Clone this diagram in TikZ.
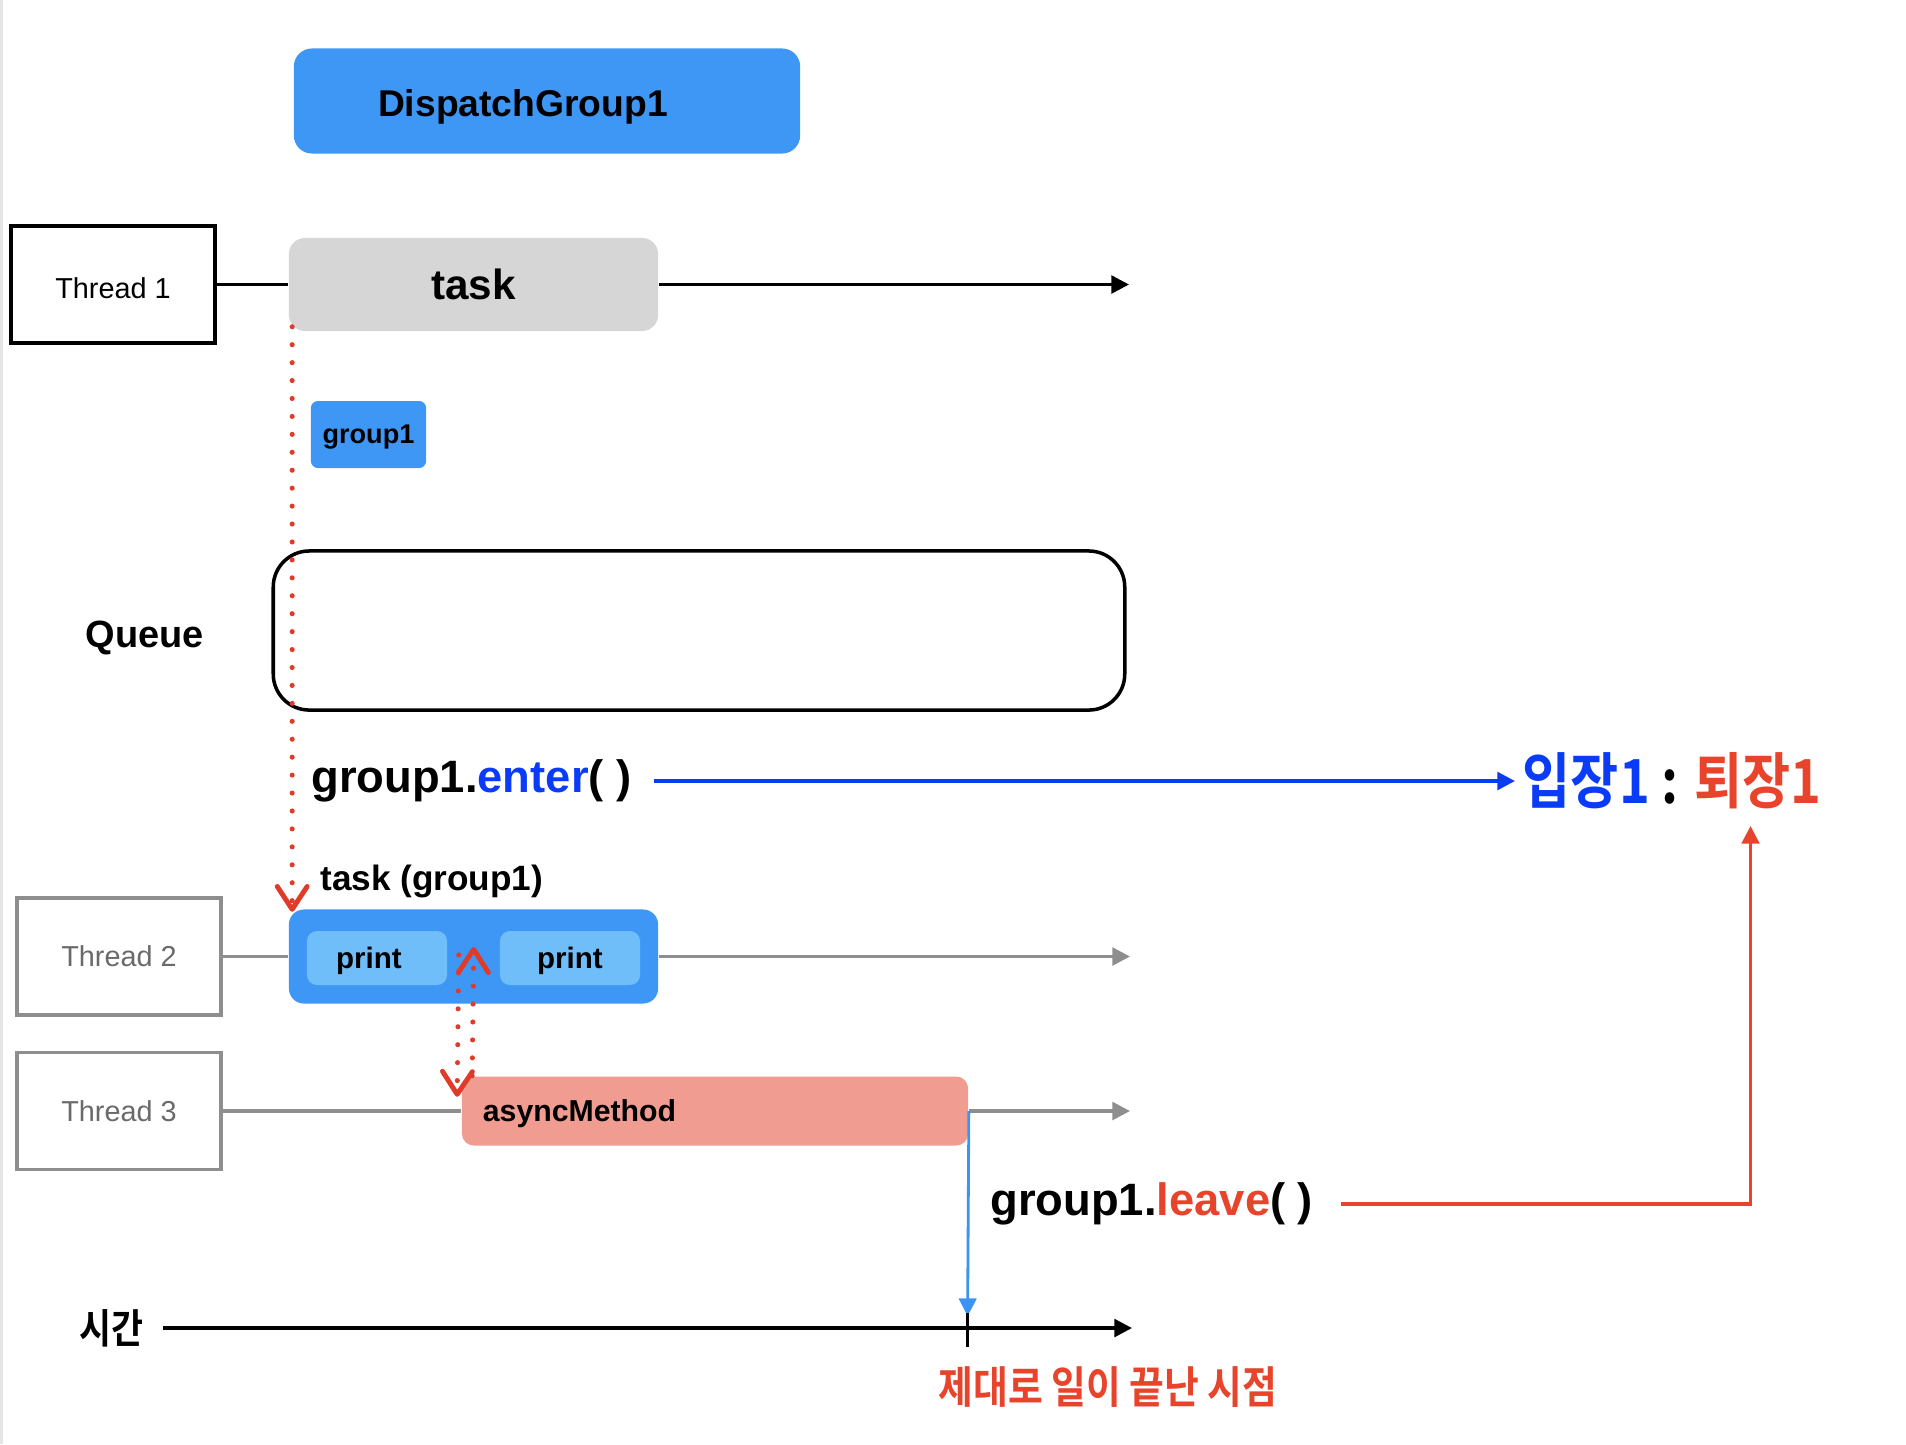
\documentclass[tikz,border=0pt]{standalone}
\usepackage{fontspec}
\setmainfont{Liberation Sans}
\newfontfamily\krfont{Noto Sans CJK KR Bold}[FakeStretch=0.86]
\usetikzlibrary{arrows.meta,positioning,calc}

\definecolor{dgblue}{HTML}{3F97F5}
\definecolor{printblue}{HTML}{70BEF9}
\definecolor{taskgray}{HTML}{D6D6D6}
\definecolor{asyncred}{HTML}{F19C91}
\definecolor{enterblue}{HTML}{0A3CF8}
\definecolor{leavered}{HTML}{E8432B}
\definecolor{dotred}{HTML}{DF3B28}
\definecolor{linegray}{HTML}{8E8E8E}
\definecolor{textgray}{HTML}{6A6A6A}
\definecolor{lineblue}{HTML}{3D94EF}

\begin{document}
\begin{tikzpicture}[x=0.01cm, y=-0.01cm,
	thread/.style={rectangle, draw, line width=1pt, minimum width=2.04cm, minimum height=1.17cm, font=\fontsize{8.2}{10}\selectfont},
	taskbox/.style={rectangle, rounded corners=0.16cm, minimum width=3.69cm, minimum height=0.93cm},
	printbox/.style={rectangle, fill=printblue, rounded corners=0.1cm, minimum width=1.4cm, minimum height=0.54cm, text depth=0pt, font=\bfseries\fontsize{8.4}{10}\selectfont},
	code/.style={anchor=west, font=\bfseries\fontsize{12.9}{15}\selectfont},
	flow/.style={line width=1pt, -{Triangle[length=5pt,width=5pt]}},
	hop/.style={draw=dotred, line width=1.45pt, line cap=round, dash pattern=on 0pt off 5.1pt, -{Straight Barb[length=6.5pt,width=8.5pt,line width=1.4pt,round]}}]
						
						\useasboundingbox (0,0) rectangle (1906,1444);
						\draw[black!10, line width=1pt] (1,0) -- (1,1444);
						
						% Thread 1
						\node[rectangle, fill=dgblue, rounded corners=0.18cm, minimum width=5.06cm, minimum height=1.05cm, text height=0.9em, text depth=0pt, font=\bfseries\fontsize{10.6}{12}\selectfont] (dg) at (547,101) {\hspace*{-0.48cm}DispatchGroup1};
						\node[thread, text height=0.82em, text depth=0pt] (t1) at (113,284.5) {Thread 1};
						\node[taskbox, fill=taskgray, font=\bfseries\fontsize{12}{14}\selectfont] (task) at (473.5,284.5) {task};
						\node[rectangle, fill=dgblue, rounded corners=0.07cm, minimum width=1.13cm, minimum height=0.67cm, text depth=0pt, font=\bfseries\fontsize{7.7}{9}\selectfont] (g1) at (368.5,434.5) {group1};
						\coordinate (end1) at (1129,284.5);
						
						% Queue
						\node[font=\bfseries\fontsize{10.8}{13}\selectfont] (queue) at (145,638) {Queue};
						\node[draw, line width=1pt, rounded corners=0.36cm, minimum width=8.51cm, minimum height=1.59cm] (qbox) at (699,630.5) {};
						
						% enter
						\node[code] (enter) at (299,781) {group1.\textcolor{enterblue}{enter}( )};
						\node[anchor=west, inner xsep=2pt, font=\krfont\fontsize{17.3}{20}\selectfont] (ratio) at (1515,781) {\textcolor{enterblue}{입장1} : \textcolor{leavered}{퇴장1}};
						
						% Thread 2, Thread 3
						\node[anchor=west, font=\bfseries\fontsize{10}{12}\selectfont] (tglbl) at (308,881) {task (group1)};
						\node[thread, draw=linegray, text=textgray] (t2) at (119,956.5) {Thread 2};
						\node[taskbox, fill=dgblue, rounded corners=0.15cm, minimum height=0.94cm] (taskg) at (473.5,956.5) {};
						\node[printbox] (print1) at (377,958) {\hspace*{-0.16cm}print};
						\node[printbox] (print2) at (570,958) {print};
						\coordinate (end2) at (1130,956.5);
						
						\node[thread, draw=linegray, text=textgray] (t3) at (119,1111) {Thread 3};
						\node[rectangle, fill=asyncred, rounded corners=0.12cm, text width=4.64cm, inner xsep=0.21cm, minimum height=0.69cm, align=left, text depth=0pt, font=\bfseries\fontsize{8.6}{10}\selectfont] (async) at (715,1111) {asyncMethod};
						\coordinate (end3) at (1130,1111);
						
						% leave
						\node[code] (leave) at (978,1204) {group1.\textcolor{leavered}{leave}( )};
						\coordinate (exit) at (1750.5,826);
						
						% time
						\node[font=\krfont\fontsize{11.5}{13}\selectfont] (time) at (111.5,1328) {시간};
						\coordinate (done) at (967.6,1328);
						\coordinate (tend) at (1132,1328);
						\node[text=leavered, font=\krfont\fontsize{12.5}{14}\selectfont] (donelbl) at (1108,1387) {제대로 일이 끝난 시점};
						
						% Arrows
						\draw[line width=1pt] (t1.east) -- (task.west);
						\draw[flow] (task.east) -- (end1);
						\draw[line width=1pt, draw=linegray] (t2.east) -- (taskg.west);
						\draw[flow, draw=linegray] (taskg.east) -- (end2);
						\draw[line width=1pt, draw=linegray] (t3.east) -- (async.west);
						\draw[flow, draw=linegray] (async.east) -- (end3);
						
						\draw[flow, draw=enterblue, shorten <=0.1cm] (enter.east) -- (ratio.west);
						\draw[flow, draw=leavered, line width=0.9pt, shorten <=0.15cm] (leave.east) -| (exit);
						\draw[flow, draw=lineblue, line width=0.8pt] (async.east) -- ($(done)+(0,-12)$);
						
						\draw[flow, shorten <=0.07cm] (time.east) -- (tend);
						\draw[line width=1pt] ($(done)+(0,-15)$) -- ($(done)+(0,19)$);
						
						% dotted hops
						\draw[hop] ($(task.south west)+(4,-5)$) -- ($(taskg.north west)+(4,3)$);
						\draw[hop] ($(print1.east)+(11,-3)$) -- ($(async.north west)+(-4,21)$);
						\draw[hop] ($(async.north west)+(11,0)$) -- ($(print1.east)+(26,-11)$);
						
					\end{tikzpicture}
\end{document}
